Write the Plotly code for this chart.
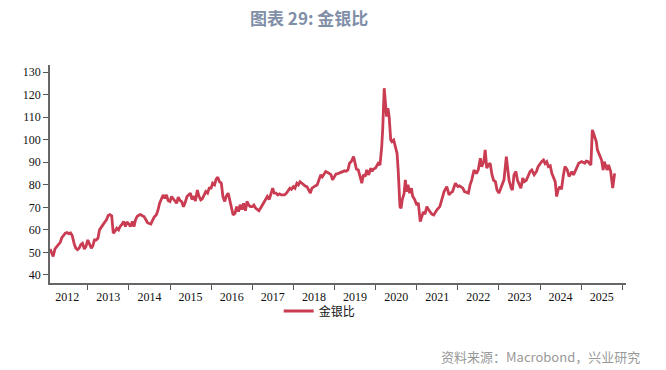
import plotly.graph_objects as go

dates = [
 "2012-02-01","2012-02-15","2012-02-28","2012-03-15","2012-04-01","2012-04-15","2012-05-01","2012-05-15",
 "2012-06-01","2012-06-15","2012-07-01","2012-07-15","2012-08-01","2012-08-15","2012-09-01","2012-09-15",
 "2012-10-01","2012-10-15","2012-11-01","2012-11-15","2012-12-01","2012-12-15",
 "2013-01-01","2013-01-15","2013-02-01","2013-02-15","2013-03-01","2013-03-15","2013-04-01","2013-04-15",
 "2013-05-01","2013-05-15","2013-06-01","2013-06-15","2013-07-01","2013-07-15","2013-08-01","2013-08-15",
 "2013-09-01","2013-09-15","2013-10-01","2013-10-15","2013-11-01","2013-11-15","2013-12-01","2013-12-15",
 "2014-01-01","2014-01-15","2014-02-01","2014-02-15","2014-03-01","2014-03-15","2014-04-01","2014-04-15",
 "2014-05-01","2014-05-15","2014-06-01","2014-06-15","2014-07-01","2014-07-15","2014-08-01","2014-08-15",
 "2014-09-01","2014-09-15","2014-10-01","2014-10-15","2014-11-01","2014-11-15","2014-12-01","2014-12-15",
 "2015-01-01","2015-01-15","2015-02-01","2015-02-15","2015-03-01","2015-03-15","2015-04-01","2015-04-15",
 "2015-05-01","2015-05-15","2015-06-01","2015-06-15","2015-07-01","2015-07-15","2015-08-01","2015-08-15",
 "2015-09-01","2015-09-15","2015-10-01","2015-10-15","2015-11-01","2015-11-15","2015-12-01","2015-12-15",
 "2016-01-01","2016-01-15","2016-02-01","2016-02-15","2016-03-01","2016-03-15","2016-04-01","2016-04-15",
 "2016-05-01","2016-05-15","2016-06-01","2016-06-15","2016-07-01","2016-07-15","2016-08-01","2016-08-15",
 "2016-09-01","2016-09-15","2016-10-01","2016-10-15","2016-11-01","2016-11-15","2016-12-01","2016-12-15",
 "2017-01-01","2017-01-15","2017-02-01","2017-02-15","2017-03-01","2017-03-15","2017-04-01","2017-04-15",
 "2017-05-01","2017-05-15","2017-06-01","2017-06-15","2017-07-01","2017-07-15","2017-08-01","2017-08-15",
 "2017-09-01","2017-09-15","2017-10-01","2017-10-15","2017-11-01","2017-11-15","2017-12-01","2017-12-15",
 "2018-01-01","2018-01-15","2018-02-01","2018-02-15","2018-03-01","2018-03-15","2018-04-01","2018-04-15",
 "2018-05-01","2018-05-15","2018-06-01","2018-06-15","2018-07-01","2018-07-15","2018-08-01","2018-08-15",
 "2018-09-01","2018-09-15","2018-10-01","2018-10-15","2018-11-01","2018-11-15","2018-12-01","2018-12-15",
 "2019-01-01","2019-01-15","2019-02-01","2019-02-15","2019-03-01","2019-03-15","2019-04-01","2019-04-15",
 "2019-05-01","2019-05-15","2019-06-01","2019-06-20","2019-07-01","2019-07-15","2019-08-01","2019-08-15",
 "2019-09-01","2019-09-15","2019-10-01","2019-10-15","2019-11-01","2019-11-20","2019-12-01","2019-12-15",
 "2020-01-01","2020-01-25","2020-02-10","2020-02-25","2020-03-05","2020-03-18","2020-03-25","2020-04-08",
 "2020-04-20","2020-05-01","2020-05-15","2020-05-25","2020-06-10","2020-06-25","2020-07-10","2020-07-20",
 "2020-08-05","2020-08-15","2020-08-25","2020-09-10","2020-09-22","2020-10-01","2020-10-15","2020-10-30",
 "2020-11-15","2020-11-25","2020-12-15",
 "2021-01-01","2021-01-15","2021-02-01","2021-02-15","2021-03-01","2021-03-15","2021-04-01","2021-04-15",
 "2021-05-01","2021-05-15","2021-06-01","2021-06-15","2021-07-01","2021-07-25","2021-08-15","2021-09-01",
 "2021-09-25","2021-10-15","2021-11-01","2021-11-15","2021-12-10",
 "2022-01-01","2022-01-15","2022-02-15","2022-03-01","2022-04-05","2022-04-20","2022-05-05","2022-05-25",
 "2022-06-15","2022-07-01","2022-07-20","2022-08-01","2022-08-20","2022-09-01","2022-09-15","2022-10-01",
 "2022-10-15","2022-11-01","2022-11-15","2022-12-01","2022-12-15",
 "2023-01-01","2023-01-15","2023-02-01","2023-02-15","2023-03-08","2023-03-25","2023-04-01","2023-04-20",
 "2023-05-01","2023-05-15","2023-06-01","2023-06-15","2023-07-15","2023-08-01","2023-08-15","2023-09-01",
 "2023-09-15","2023-10-05","2023-10-20","2023-11-10","2023-12-01","2023-12-15",
 "2024-01-15","2024-02-01","2024-02-15","2024-03-01","2024-03-15","2024-04-01","2024-04-15","2024-05-01",
 "2024-05-15","2024-05-28","2024-06-10","2024-06-25","2024-07-10","2024-07-25","2024-08-10","2024-08-30",
 "2024-09-15","2024-10-01","2024-10-10","2024-10-25","2024-11-15","2024-12-10",
 "2025-01-05","2025-02-01","2025-02-15","2025-03-01","2025-03-28","2025-04-10","2025-04-25","2025-05-15",
 "2025-05-25","2025-06-20","2025-07-01","2025-07-15","2025-07-25","2025-08-20","2025-09-01","2025-09-20",
 "2025-10-08","2025-10-25",
]

gold_silver_ratio = [
 51.5,49.5,48.2,51.5,52.5,53.5,54.5,56.5,
 57.8,58.5,58.8,58.3,58.6,57.5,54.0,52.0,
 51.2,51.8,53.5,54.0,51.5,52.5,
 55.5,53.5,51.8,53.0,55.5,55.5,56.3,60.0,
 61.5,62.2,63.5,64.4,66.4,66.8,66.2,58.5,
 59.5,60.7,60.0,61.5,62.5,63.7,61.5,63.5,
 62.5,61.5,63.7,61.4,64.5,66.0,66.6,66.8,
 66.2,65.9,64.5,63.2,62.8,62.6,64.4,65.8,
 66.6,68.5,71.8,73.5,75.5,74.0,75.5,73.0,
 72.6,74.8,73.5,72.5,71.8,74.5,73.0,72.5,
 70.3,72.0,74.8,75.5,76.3,73.5,75.0,72.8,
 77.7,75.0,73.3,73.8,75.5,77.0,76.3,78.5,
 78.5,80.7,80.0,82.5,83.4,81.4,80.7,74.8,
 72.6,75.0,76.3,73.3,68.9,66.6,67.4,70.3,
 68.1,71.1,69.0,71.8,68.5,72.6,71.0,70.3,
 70.3,71.0,69.6,68.9,68.5,69.6,71.0,72.5,
 74.0,74.8,73.5,75.5,78.5,76.3,76.3,75.5,
 76.0,75.5,75.5,75.5,76.3,77.5,78.5,78.0,
 79.2,78.5,80.7,80.0,81.4,80.8,80.0,79.5,
 79.2,78.0,76.3,78.5,79.2,79.5,80.0,82.5,
 84.4,83.5,84.5,85.9,85.5,85.1,84.5,82.2,
 84.0,84.8,85.0,85.3,85.5,85.9,86.2,86.0,
 86.6,89.6,90.5,92.5,90.0,87.0,86.6,84.0,
 80.7,84.5,83.7,86.6,84.4,87.4,86.0,87.0,
 87.5,89.6,88.8,97.0,105.0,122.9,117.7,110.3,
 114.0,110.3,99.9,99.2,99.9,97.0,94.0,86.6,
 70.3,69.6,73.3,76.0,82.2,77.0,80.0,76.3,
 78.5,75.0,73.3,
 71.0,72.0,63.7,65.9,68.0,67.0,70.3,69.0,
 68.0,67.0,66.6,68.0,69.0,70.3,74.8,77.0,
 79.2,75.5,76.5,77.0,80.7,
 79.2,79.5,78.5,77.0,76.3,80.0,82.2,86.6,
 85.0,86.6,91.8,88.0,90.3,95.5,87.4,89.0,
 89.6,84.4,82.0,81.4,77.7,
 76.3,78.0,80.0,82.2,92.5,86.6,82.0,78.5,
 77.7,84.4,85.9,82.0,78.5,83.0,81.4,82.0,
 84.0,85.9,86.6,84.5,86.0,88.1,
 90.3,91.0,89.5,90.3,88.1,88.5,85.1,83.0,
 81.4,74.8,77.7,79.2,78.0,83.7,88.1,86.6,
 83.7,85.0,85.9,84.4,86.6,89.6,
 90.3,89.6,90.5,90.3,88.8,104.4,102.2,99.2,
 95.5,92.5,91.0,86.6,90.3,86.6,88.8,85.9,
 78.5,85.1,
]

series_name = "金银比"
y_ticks = [40, 50, 60, 70, 80, 90, 100, 110, 120, 130]

fig = go.Figure()
fig.add_trace(go.Scatter(
    x=dates, y=gold_silver_ratio, mode="lines", name=series_name,
    line=dict(color="#C93C52", width=2.8),
))

axis_font = dict(family="Liberation Serif, Times New Roman, serif", size=12, color="#111")

fig.update_layout(
    width=666, height=370,
    margin=dict(l=50, r=40, t=65, b=87, autoexpand=False),
    paper_bgcolor="white", plot_bgcolor="white",
    showlegend=True,
    legend=dict(orientation="h", x=0.397, xanchor="left", y=-0.062, yanchor="top",
                font=dict(family="Noto Sans CJK SC", size=12, color="#111"),
                bgcolor="rgba(0,0,0,0)"),
    xaxis=dict(
        type="date",
        range=["2012-01-31", "2026-02-03"],
        dtick="M12", tick0="2012-01-01", ticklabelmode="period",
        tickformat="%Y", ticks="outside", ticklen=5, tickcolor="#555", tickwidth=1.2,
        ticklabelstandoff=-3,
        showline=True, linecolor="#666", linewidth=1.6,
        showgrid=False, zeroline=False, tickfont=axis_font,
    ),
    yaxis=dict(
        range=[36.4, 133.2], tickvals=y_ticks,
        ticks="outside", ticklen=5, tickcolor="#555", tickwidth=1.2,
        showline=True, linecolor="#666", linewidth=1.6,
        showgrid=False, zeroline=False, tickfont=axis_font,
    ),
    annotations=[
        dict(text="<b>图表 29: 金银比</b>", xref="paper", yref="paper",
             x=0.344, y=1.216, xanchor="left", yanchor="middle", showarrow=False,
             font=dict(family="Noto Sans CJK SC", size=17, color="#7F8FA8")),
        dict(text="资料来源：Macrobond，兴业研究", xref="paper", yref="paper",
             x=1.028, y=-0.339, xanchor="right", yanchor="middle", showarrow=False,
             font=dict(family="Noto Sans CJK SC", size=13, color="#999999")),
    ],
)

fig.write_html("out.html", config={"displayModeBar": False},
               post_script="document.body.style.margin='0';")
